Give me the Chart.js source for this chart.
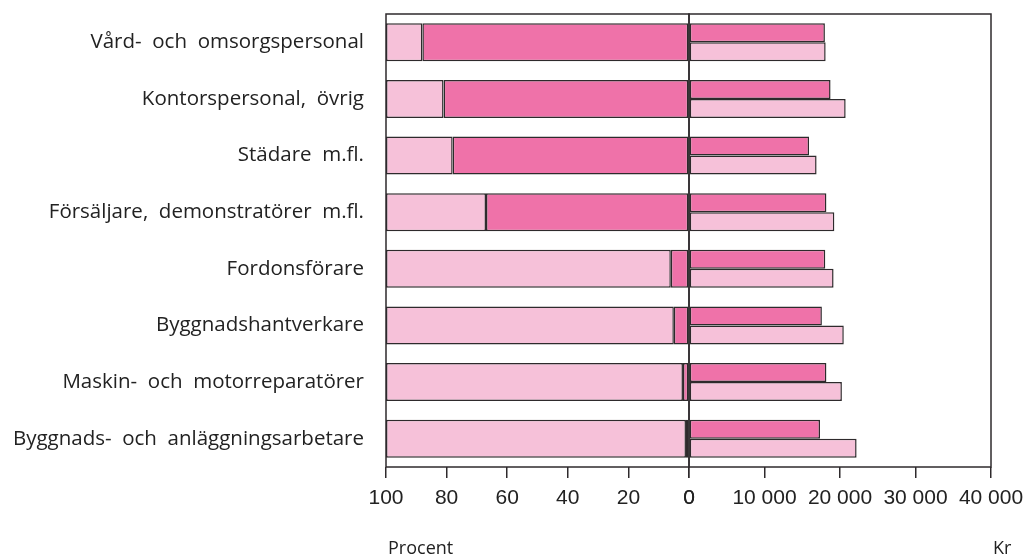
<!DOCTYPE html>
<html>
<head>
<meta charset="utf-8">
<script src="https://cdn.jsdelivr.net/npm/chart.js@4.4.0/dist/chart.umd.min.js"></script>
<style>
  body { margin: 0; background: #fff; }
  #wrap { position: relative; width: 1026px; height: 558px; }
  #wrap canvas { position: absolute; left: 0; top: 0; }
  .unit { position: absolute; font-family: "Open Sans", sans-serif; font-size: 18px; color: #222; line-height: 1; }
</style>
</head>
<body>
<div id="wrap">
  <canvas id="share-chart" width="1026" height="558"></canvas>
  <canvas id="pay-chart" width="1026" height="558"></canvas>
  <div class="unit" style="left:388px; top:538px;">Procent</div>
  <div class="unit" style="left:993px; top:538px;">Kr</div>
</div>
<script>
// Occupations (top to bottom)
const occupations = [
  'Vård-  och  omsorgspersonal',
  'Kontorspersonal,  övrig',
  'Städare  m.fl.',
  'Försäljare,  demonstratörer  m.fl.',
  'Fordonsförare',
  'Byggnadshantverkare',
  'Maskin-  och  motorreparatörer',
  'Byggnads-  och  anläggningsarbetare'
];

// Share of women / men, percent
const womenShare = [88, 81, 78, 67, 6, 5, 2, 1];
const menShare = [12, 19, 22, 33, 94, 95, 98, 99];

// Monthly pay, kr
const womenPay = [18000, 18750, 15900, 18200, 18050, 17600, 18200, 17350];
const menPay = [18100, 20750, 16900, 19250, 19150, 20500, 20250, 22200];

// Tick values
const percentTicks = [0, 20, 40, 60, 80, 100];
const krTicks = [0, 10000, 20000, 30000, 40000];

const DARK = '#ef72a9';
const LIGHT = '#f6c1d9';
const LINE = '#2e2a2c';

// Frame around the plot area
const framePlugin = {
  id: 'frame',
  afterDatasetsDraw(chart) {
    const { ctx, chartArea: a } = chart;
    ctx.save();
    ctx.strokeStyle = LINE;
    ctx.lineWidth = 1.5;
    ctx.strokeRect(a.left, a.top, a.right - a.left, a.bottom - a.top);
    ctx.restore();
  }
};

// keep the plot area where the layout padding puts it
function noPad(s) {
  s.paddingTop = 0; s.paddingBottom = 0; s.paddingLeft = 0; s.paddingRight = 0;
}

const tickFont = { family: '"Liberation Sans", Arial, sans-serif', size: 21 };

function xAxis(min, max, ticks, reverse, fmt) {
  return {
    type: 'linear',
    min: min,
    max: max,
    reverse: reverse,
    afterFit: s => { s.height = 91; noPad(s); },
    afterBuildTicks: s => { s.ticks = ticks.map(v => ({ value: v })); },
    border: { display: false },
    grid: { drawOnChartArea: false, drawTicks: true, tickLength: 11, color: LINE, lineWidth: 1.5 },
    ticks: { font: tickFont, color: '#222', padding: 8, maxRotation: 0, autoSkip: false, callback: fmt }
  };
}

const common = {
  indexAxis: 'y',
  responsive: false,
  animation: false,
  plugins: { legend: { display: false }, tooltip: { enabled: false } }
};

// Left panel: share of women and men
new Chart(document.getElementById('share-chart'), {
  type: 'bar',
  data: {
    labels: occupations,
    datasets: [
      { label: 'Kvinnor', data: womenShare, backgroundColor: DARK, borderColor: LINE, borderWidth: 1.5, borderSkipped: false },
      { label: 'Män', data: menShare, backgroundColor: LIGHT, borderColor: LINE, borderWidth: 1.5, borderSkipped: false }
    ]
  },
  options: {
    ...common,
    categoryPercentage: 0.67,
    barPercentage: 1,
    layout: { padding: { top: 14, right: 337, left: 0, bottom: 0 } },
    scales: {
      x: { ...xAxis(0, 100, percentTicks, true, v => String(v)), stacked: true },
      y: {
        stacked: true,
        afterFit: s => { s.width = 386; noPad(s); },
        border: { display: false },
        grid: { display: false, drawTicks: false },
        ticks: { font: { family: '"Open Sans", sans-serif', size: 20.5 }, color: '#222', padding: 22 }
      }
    }
  },
  plugins: [framePlugin]
});

// Right panel: monthly pay
new Chart(document.getElementById('pay-chart'), {
  type: 'bar',
  data: {
    labels: occupations,
    datasets: [
      { label: 'Kvinnor', data: womenPay, backgroundColor: DARK, borderColor: LINE, borderWidth: 1.5, borderSkipped: false },
      { label: 'Män', data: menPay, backgroundColor: LIGHT, borderColor: LINE, borderWidth: 1.5, borderSkipped: false }
    ]
  },
  options: {
    ...common,
    categoryPercentage: 0.67,
    barPercentage: 1,
    layout: { padding: { top: 14, right: 35, left: 689, bottom: 0 } },
    scales: {
      x: xAxis(0, 40000, krTicks, false, v => v === 0 ? '0' : String(v).replace(/\B(?=(\d{3})+(?!\d))/g, ' ')),
      y: { display: false }
    }
  },
  plugins: [framePlugin]
});
</script>
</body>
</html>
